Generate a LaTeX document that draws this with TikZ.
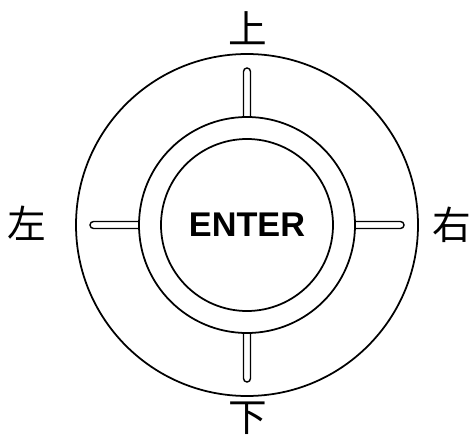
\documentclass[tikz,border=0pt]{standalone}
\usepackage{fontspec}
\setmainfont{Liberation Sans}
\newfontfamily\cjk{Noto Sans CJK SC}
\tikzset{
  ring/.style={draw,line width=1pt},
  slot/.style={draw,line width=0.8pt},
  dirlabel/.style={font=\cjk\fontsize{22}{22}\selectfont,inner sep=0pt}
}
\begin{document}
\begin{tikzpicture}[scale=1.0]
\useasboundingbox (-4.94,-4.22) rectangle (4.48,4.50);
\foreach \a in {0,90,180,270}
  \draw[slot,rotate=\a] (2.16,-0.07) -- (3.07,-0.07) arc (-90:90:0.07) -- (2.16,0.07);
\draw[ring] (0,0) circle (3.42);
\draw[ring] (0,0) circle (2.16);
\node[ring,circle,minimum size=3.44cm,inner sep=0pt,font=\bfseries\fontsize{19.5}{19.5}\selectfont] (enter) at (0,0) {ENTER};
\node[dirlabel] (up) at (0.02,3.94) {上};
\node[dirlabel] (down) at (0.02,-3.86) {下};
\node[dirlabel] (left) at (-4.40,0.04) {左};
\node[dirlabel] (right) at (4.10,0) {右};
\end{tikzpicture}
\end{document}
